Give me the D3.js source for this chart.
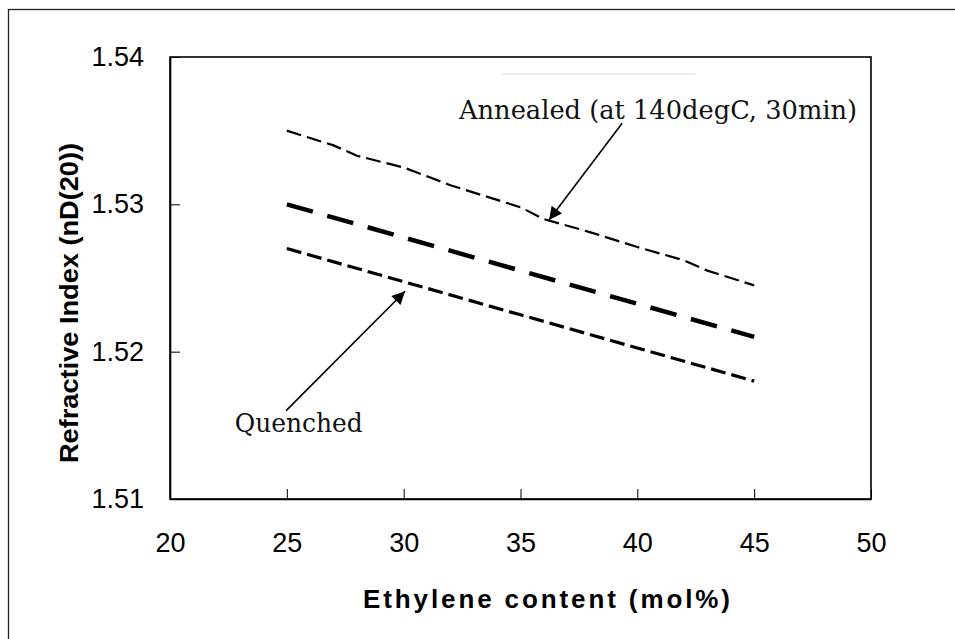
<!DOCTYPE html>
<html>
<head>
<meta charset="utf-8">
<script src="https://cdn.jsdelivr.net/npm/d3@7"></script>
<style>
  body { margin: 0; background: #fff; }
  svg { display: block; }
</style>
</head>
<body>
<div id="chart"></div>
<script>
// values
const xTicks = [20, 25, 30, 35, 40, 45, 50];
const yTicks = [1.51, 1.52, 1.53, 1.54];

const annealedX = [25, 27, 28, 30, 32, 34, 35, 36, 38, 40, 42, 43, 45];
const annealedY = [1.5350, 1.5340, 1.5333, 1.5325, 1.5313, 1.5303, 1.5298, 1.5290, 1.5281, 1.5271, 1.5262, 1.5255, 1.5245];

const middleX = [25, 30, 35, 40, 45];
const middleY = [1.5300, 1.52775, 1.5255, 1.52325, 1.5210];

const quenchedX = [25, 30, 35, 40, 45];
const quenchedY = [1.5270, 1.52475, 1.5225, 1.52025, 1.5180];

// annotations: [label, text x, text y, arrow tail x, tail y, arrow tip x, tip y] in data units
const noteAnnealed = ["Annealed (at 140degC, 30min)", 32.37, 1.5358, 39.35, 1.5355, 36.22, 1.52894];
const noteQuenched = ["Quenched", 22.77, 1.51455, 24.97, 1.5160, 30.06, 1.5241];

const width = 955, height = 639;
const margin = {left: 170, top: 57, right: 84, bottom: 140};

const svg = d3.select("#chart").append("svg")
    .attr("width", width)
    .attr("height", height);

// outer frame (only top/left edges are inside the picture)
svg.append("rect")
    .attr("x", 8.5).attr("y", 9.5)
    .attr("width", 1000).attr("height", 700)
    .attr("fill", "none")
    .attr("stroke", "#222")
    .attr("stroke-width", 1.3);

// faint leftover line above the plot
svg.append("line")
    .attr("x1", 501).attr("x2", 695)
    .attr("y1", 74).attr("y2", 74)
    .attr("stroke", "#dcdcdc")
    .attr("stroke-width", 1);

const x = d3.scaleLinear().domain([20, 50]).range([margin.left, width - margin.right]);
const y = d3.scaleLinear().domain([1.51, 1.54]).range([height - margin.bottom, margin.top]);

// plot box
svg.append("rect")
    .attr("x", x(20)).attr("y", y(1.54))
    .attr("width", x(50) - x(20))
    .attr("height", y(1.51) - y(1.54))
    .attr("fill", "none")
    .attr("stroke", "#000")
    .attr("stroke-width", 1.6);

const xAxis = svg.append("g")
    .attr("transform", `translate(0,${y(1.51)})`)
    .call(d3.axisBottom(x).tickValues(xTicks).tickSizeInner(-10).tickSizeOuter(0).tickPadding(26).tickFormat(d3.format("d")));

const yAxis = svg.append("g")
    .attr("transform", `translate(${x(20)},0)`)
    .call(d3.axisLeft(y).tickValues(yTicks).tickSizeInner(-10).tickSizeOuter(0).tickPadding(26).tickFormat(d3.format(".2f")));

[xAxis, yAxis].forEach(g => {
    g.select(".domain").attr("stroke", "#000").attr("stroke-width", 1.6);
    g.selectAll(".tick line").attr("stroke", "#000").attr("stroke-width", 1);
    g.selectAll(".tick text")
        .attr("fill", "#000")
        .style("font-family", "'Liberation Sans', Arial, sans-serif")
        .style("font-size", "27px");
});
xAxis.selectAll(".tick text").attr("dy", "0.71em").attr("y", 34);
yAxis.selectAll(".tick text").attr("x", -26);

// series
const line = d3.line().x(d => x(d[0])).y(d => y(d[1]));
const series = [
    {xs: annealedX, ys: annealedY, w: 2.2, dash: "15,6"},
    {xs: middleX, ys: middleY, w: 4.5, dash: "27,15"},
    {xs: quenchedX, ys: quenchedY, w: 3.2, dash: "15,6"}
];
svg.selectAll("path.series")
    .data(series)
    .enter()
    .append("path")
    .attr("class", "series")
    .attr("d", s => line(d3.zip(s.xs, s.ys)))
    .attr("fill", "none")
    .attr("stroke", "#000")
    .attr("stroke-width", s => s.w)
    .attr("stroke-dasharray", s => s.dash);

// arrow head
svg.append("defs").append("marker")
    .attr("id", "arrow")
    .attr("viewBox", "0 0 10 10")
    .attr("refX", 10).attr("refY", 5)
    .attr("markerUnits", "userSpaceOnUse")
    .attr("markerWidth", 17).attr("markerHeight", 13)
    .attr("orient", "auto")
    .append("path")
    .attr("d", "M0,0L10,5L0,10Z")
    .attr("fill", "#000");

const notes = [noteAnnealed, noteQuenched];
svg.selectAll("line.arrow")
    .data(notes)
    .enter()
    .append("line")
    .attr("class", "arrow")
    .attr("x1", d => x(d[3])).attr("y1", d => y(d[4]))
    .attr("x2", d => x(d[5])).attr("y2", d => y(d[6]))
    .attr("stroke", "#000")
    .attr("stroke-width", 1.6)
    .attr("marker-end", "url(#arrow)");

svg.selectAll("text.note")
    .data(notes)
    .enter()
    .append("text")
    .attr("class", "note")
    .attr("x", d => x(d[1]))
    .attr("y", d => y(d[2]))
    .attr("textLength", (d, i) => i == 0 ? 398 : 128)
    .attr("lengthAdjust", "spacingAndGlyphs")
    .style("font-family", "'DejaVu Serif', 'Liberation Serif', serif")
    .style("font-size", "26px")
    .attr("fill", "#111")
    .text(d => d[0]);

// axis titles
svg.append("text")
    .attr("x", 363).attr("y", 608)
    .attr("textLength", 367)
    .attr("lengthAdjust", "spacing")
    .style("font-family", "'Liberation Sans', Arial, sans-serif")
    .style("font-size", "26px")
    .style("font-weight", "bold")
    .text("Ethylene content (mol%)");

svg.append("text")
    .attr("transform", "translate(78,303) rotate(-90)")
    .attr("text-anchor", "middle")
    .attr("textLength", 320)
    .attr("lengthAdjust", "spacingAndGlyphs")
    .style("font-family", "'Liberation Sans', Arial, sans-serif")
    .style("font-size", "26px")
    .style("font-weight", "bold")
    .text("Refractive Index (nD(20))");
</script>
</body>
</html>
